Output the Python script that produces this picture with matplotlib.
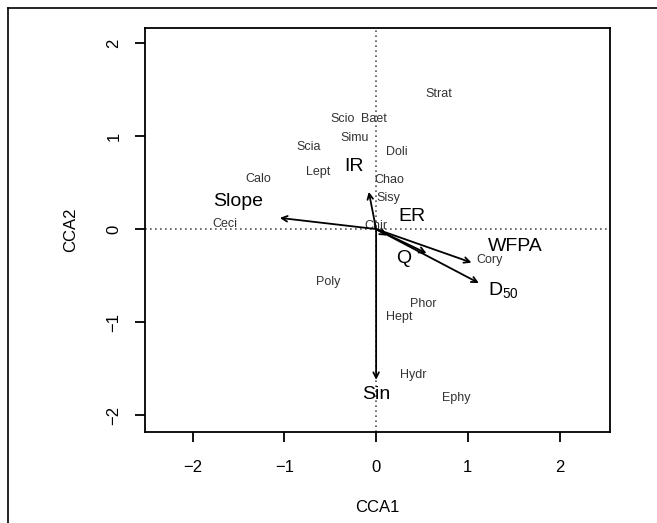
import matplotlib
matplotlib.use("Agg")
import matplotlib.pyplot as plt
from matplotlib.lines import Line2D

plt.rcParams['font.family'] = ['Liberation Sans', 'DejaVu Sans']

# Species scores (CCA1, CCA2)
species = ["Strat", "Scio", "Baet", "Simu", "Scia", "Doli", "Lept", "Calo", "Chao",
           "Sisy", "Ceci", "Chir", "Cory", "Poly", "Phor", "Hept", "Hydr", "Ephy"]
sp_x = [0.68, -0.37, -0.02, -0.24, -0.74, 0.23, -0.63, -1.28, 0.14,
        0.13, -1.65, 0.00, 1.24, -0.52, 0.51, 0.25, 0.41, 0.87]
sp_y = [1.45, 1.18, 1.18, 0.98, 0.88, 0.83, 0.61, 0.54, 0.53,
        0.33, 0.05, 0.03, -0.33, -0.57, -0.80, -0.94, -1.57, -1.81]

# Environmental vectors (arrow tips) and label positions
env = ["Slope", "IR", "ER", "WFPA", "Q", "$\\mathregular{D_{50}}$", "Sin"]
env_x = [-1.05, -0.08, 0.12, 1.04, 0.55, 1.12, 0.00]
env_y = [0.12, 0.40, -0.07, -0.36, -0.26, -0.58, -1.62]
env_lx = [-1.51, -0.24, 0.39, 1.52, 0.30, 1.39, 0.00]
env_ly = [0.30, 0.67, 0.13, -0.19, -0.32, -0.65, -1.78]

xticks = [-2, -1, 0, 1, 2]
yticks = [-2, -1, 0, 1, 2]

fig = plt.figure(figsize=(6.57, 5.23), dpi=100)
ax = fig.add_axes([145/657, 1-432/523, (610-145)/657, (432-28)/523])

ax.axhline(0, color='#555555', ls=(0, (1, 2)), lw=1.2, zorder=1)
ax.axvline(0, color='#555555', ls=(0, (1, 2)), lw=1.2, zorder=1)

for name, x, y in zip(species, sp_x, sp_y):
    ax.text(x, y, name, ha='center', va='center', fontsize=9, color='#333333', zorder=3)

for name, x, y, lx, ly in zip(env, env_x, env_y, env_lx, env_ly):
    ax.annotate('', xy=(x, y), xytext=(0, 0),
                arrowprops=dict(arrowstyle='->', color='black', lw=1.3,
                                mutation_scale=10, shrinkA=0, shrinkB=0), zorder=4)
    ax.text(lx, ly, name, ha='center', va='center', fontsize=14, color='black', zorder=5)

ax.set_xlim(-2.52, 2.55)
ax.set_ylim(-2.18, 2.16)
ax.set_xticks(xticks)
ax.set_yticks(yticks)
ax.set_xticklabels([str(t).replace('-', '\u2212') for t in xticks], fontsize=12)
ax.set_yticklabels([str(t).replace('-', '\u2212') for t in yticks], fontsize=12,
                   rotation=90, va='center')
ax.tick_params(axis='x', length=7, width=1.3, pad=13)
ax.tick_params(axis='y', length=7, width=1.3, pad=10)
for s in ax.spines.values():
    s.set_linewidth(1.3)
ax.set_xlabel('CCA1', fontsize=12, labelpad=18)
ax.set_ylabel('CCA2', fontsize=12, labelpad=20)

# partial figure frame (top and left)
fig.add_artist(Line2D([8/657, 1.0], [1-8/523, 1-8/523], color='black', lw=1.2))
fig.add_artist(Line2D([8/657, 8/657], [0.0, 1-8/523], color='black', lw=1.2))

fig.savefig('out.png', dpi=100)
